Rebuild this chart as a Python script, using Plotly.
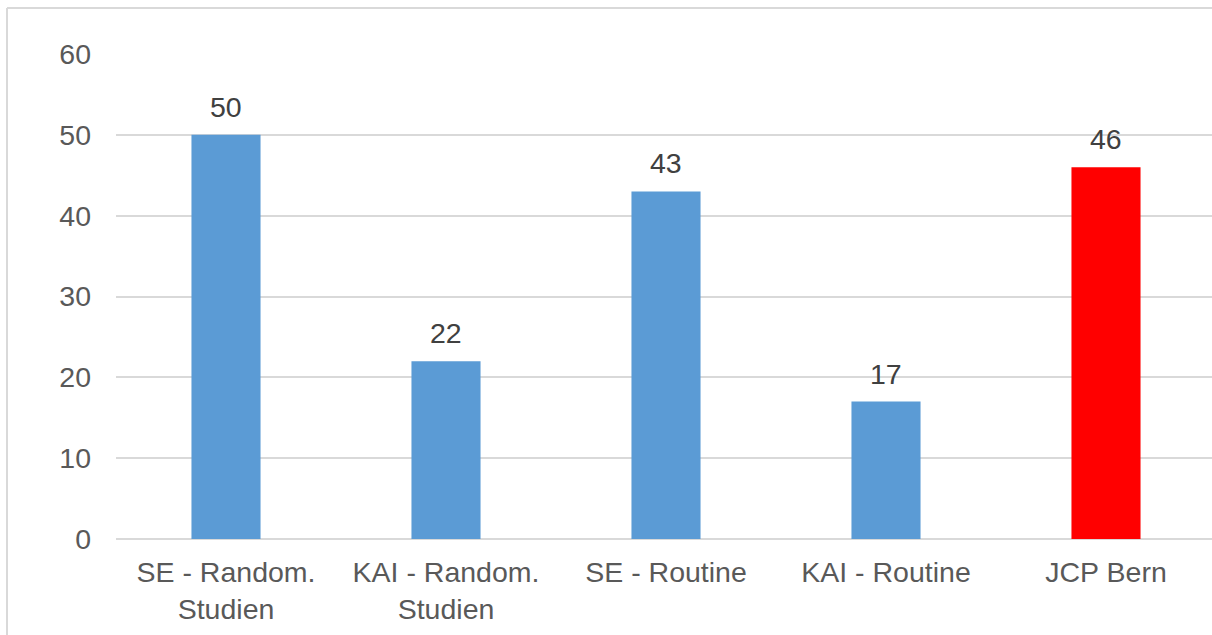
import plotly.graph_objects as go

categories = ["SE - Random.<br>Studien", "KAI - Random.<br>Studien", "SE - Routine", "KAI - Routine", "JCP Bern"]
values = [50, 22, 43, 17, 46]
colors = ["#5B9BD5", "#5B9BD5", "#5B9BD5", "#5B9BD5", "#FF0000"]
y_ticks = [0, 10, 20, 30, 40, 50, 60]

FONT = "Liberation Sans, Arial, sans-serif"
FS = 28.5

fig = go.Figure()
fig.add_trace(go.Bar(
    x=list(range(len(categories))),
    y=values,
    marker=dict(color=colors, line=dict(width=0)),
    width=0.314,
    hoverinfo="skip",
))

for i, v in enumerate(values):
    fig.add_annotation(
        x=i, y=v, text=str(v), showarrow=False,
        xref="x", yref="y", yanchor="bottom", yshift=10,
        font=dict(family=FONT, size=FS, color="#404040"),
    )

gray = "#D9D9D9"
# plot area: x 116..1212 , y 54..539
PW, PH = 1096, 485
bx = (7 - 116) / PW
by = (539 - 8) / PH
fig.add_shape(type="line", xref="paper", yref="paper",
              x0=bx, x1=1.2, y0=by, y1=by,
              line=dict(color=gray, width=2))
fig.add_shape(type="line", xref="paper", yref="paper",
              x0=bx, x1=bx, y0=by, y1=-0.3,
              line=dict(color=gray, width=2))

fig.update_layout(
    width=1212, height=635,
    margin=dict(l=116, r=0, t=54, b=96),
    paper_bgcolor="white", plot_bgcolor="white",
    showlegend=False,
    font=dict(family=FONT, size=FS, color="#595959"),
    xaxis=dict(
        tickmode="array",
        tickvals=list(range(len(categories))),
        ticktext=categories,
        range=[-0.5, -0.5 + PW / 220],
        showgrid=False, zeroline=False, showline=False,
        ticks="", ticklabelstandoff=13,
        tickfont=dict(family=FONT, size=FS, color="#595959"),
    ),
    yaxis=dict(
        range=[0, 60],
        tickvals=y_ticks,
        showgrid=True, gridcolor=gray, gridwidth=1.5,
        zeroline=True, zerolinecolor=gray, zerolinewidth=1.5,
        showline=False, ticks="", ticklabelstandoff=24,
        tickfont=dict(family=FONT, size=FS, color="#595959"),
    ),
)

fig.write_html(
    "out.html",
    config={"displayModeBar": False},
    post_script="document.body.style.margin='0';document.body.style.overflow='hidden';",
)
